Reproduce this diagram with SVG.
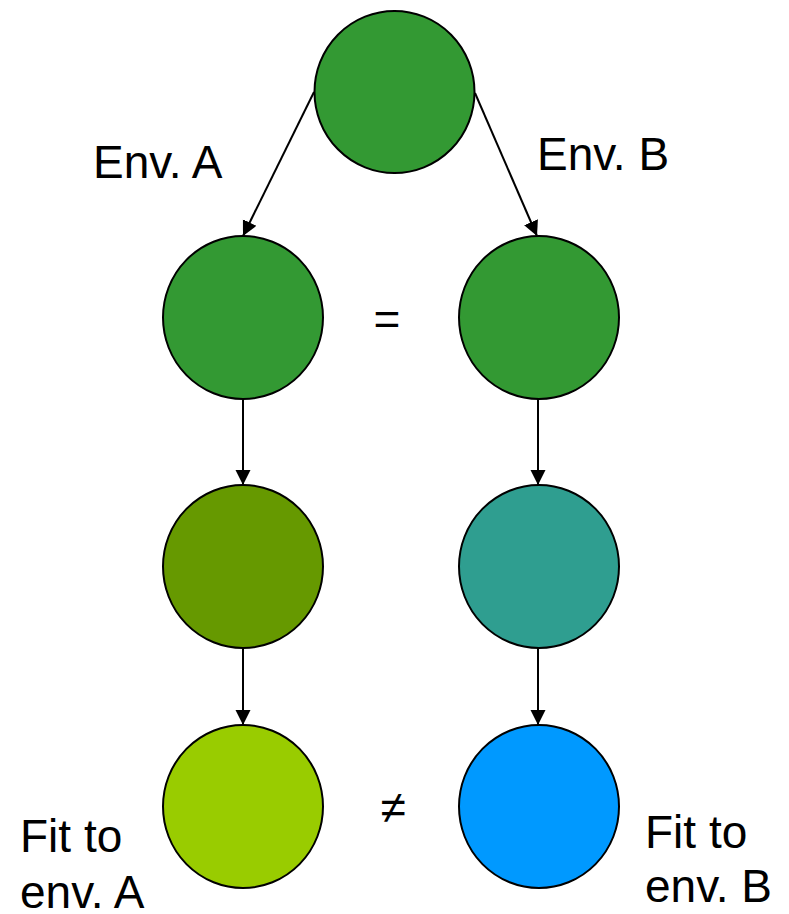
<svg xmlns="http://www.w3.org/2000/svg" width="789" height="914" viewBox="0 0 789 914">
<style>
.n{stroke:#000;stroke-width:2}
.c{stroke:#000;stroke-width:2;fill:none}
.t{font-family:"Liberation Sans",Arial,sans-serif;font-size:46px;fill:#000}
</style>
<defs>
<marker id="a" markerWidth="16" markerHeight="16" refX="15" refY="7.5" orient="auto" markerUnits="userSpaceOnUse" viewBox="0 0 16 15">
<path d="M0,0 L15,7.5 L0,15 Z" fill="#000"/>
</marker>
</defs>
<rect width="789" height="914" fill="#fff"/>
<g id="connectors">
<line class="c" x1="314" y1="92" x2="243" y2="236" marker-end="url(#a)"/>
<line class="c" x1="475" y1="93" x2="537" y2="236" marker-end="url(#a)"/>
<line class="c" x1="243" y1="399" x2="243" y2="485" marker-end="url(#a)"/>
<line class="c" x1="538" y1="399" x2="538" y2="485" marker-end="url(#a)"/>
<line class="c" x1="243" y1="648" x2="243" y2="725" marker-end="url(#a)"/>
<line class="c" x1="538" y1="648" x2="538" y2="725" marker-end="url(#a)"/>
</g>
<g id="root"><ellipse class="n" cx="394.5" cy="92" rx="80" ry="81" fill="#339933"/></g>
<g id="a1"><ellipse class="n" cx="243" cy="317.5" rx="80" ry="81.5" fill="#339933"/></g>
<g id="b1"><ellipse class="n" cx="539" cy="317.5" rx="80" ry="81.5" fill="#339933"/></g>
<g id="a2"><ellipse class="n" cx="243" cy="566.5" rx="80" ry="81.5" fill="#669900"/></g>
<g id="b2"><ellipse class="n" cx="539" cy="566.5" rx="80" ry="81.5" fill="#2F9E90"/></g>
<g id="a3"><ellipse class="n" cx="243" cy="806.5" rx="80" ry="81.5" fill="#99CC00"/></g>
<g id="b3"><ellipse class="n" cx="539" cy="806.5" rx="80" ry="81.5" fill="#0099FF"/></g>
<g id="labels">
<text class="t" x="93" y="178">Env. A</text>
<text class="t" x="537" y="170">Env. B</text>
<text class="t" x="387" y="335" text-anchor="middle">=</text>
<text class="t" x="393" y="823" text-anchor="middle">≠</text>
<text class="t" x="20" y="852">Fit to</text>
<text class="t" x="20" y="908">env. A</text>
<text class="t" x="645" y="848">Fit to</text>
<text class="t" x="645" y="902">env. B</text>
</g>
</svg>
